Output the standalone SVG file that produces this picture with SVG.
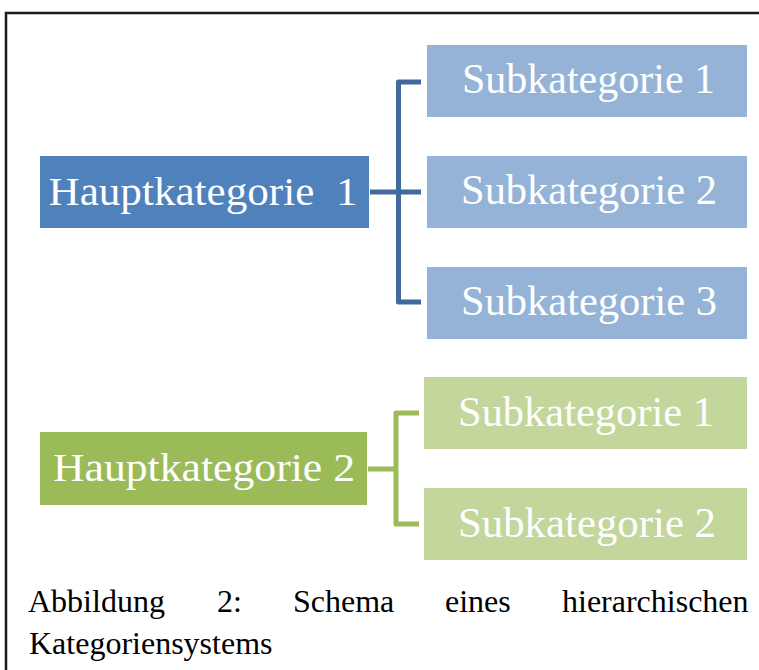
<svg xmlns="http://www.w3.org/2000/svg" width="759" height="670" viewBox="0 0 759 670">
<style>
.box-text{font-family:"Liberation Serif","Times New Roman",serif;fill:#ffffff;text-anchor:middle;white-space:pre}
.cap{font-family:"Liberation Serif","Times New Roman",serif;fill:#000000;font-size:32px}
.b1{fill:#4F81BD}
.bs{fill:#95B3D7}
.g1{fill:#9BBB59}
.gs{fill:#C3D69B}
.conn-b{fill:none;stroke:#41699B;stroke-width:5;stroke-linejoin:round}
.conn-g{fill:none;stroke:#9BBB59;stroke-width:5;stroke-linejoin:round}
</style>
<rect x="0" y="0" width="759" height="670" fill="#ffffff"/>
<rect x="6" y="13" width="800" height="700" fill="none" stroke="#1a1a1a" stroke-width="2.5"/>
<g id="connectors">
<path class="conn-b" d="M421 82 H398.5 V302 H421"/>
<path class="conn-b" d="M370 192 H421"/>
<path class="conn-g" d="M419 413 H396 V524 H419"/>
<path class="conn-g" d="M368 469 H396"/>
</g>
<g id="haupt1">
<rect class="b1" x="40" y="156" width="329" height="72"/>
<text class="box-text" x="203" y="205" font-size="41" textLength="309" lengthAdjust="spacingAndGlyphs">Hauptkategorie  1</text>
</g>
<g id="sub1-1">
<rect class="bs" x="427" y="45" width="320" height="72"/>
<text class="box-text" x="588.5" y="93" font-size="42" textLength="253" lengthAdjust="spacingAndGlyphs">Subkategorie 1</text>
</g>
<g id="sub1-2">
<rect class="bs" x="427" y="156" width="320" height="72"/>
<text class="box-text" x="589" y="204" font-size="42" textLength="256" lengthAdjust="spacingAndGlyphs">Subkategorie 2</text>
</g>
<g id="sub1-3">
<rect class="bs" x="427" y="267" width="320" height="72"/>
<text class="box-text" x="589" y="315" font-size="42" textLength="256" lengthAdjust="spacingAndGlyphs">Subkategorie 3</text>
</g>
<g id="haupt2">
<rect class="g1" x="40" y="432" width="327" height="73"/>
<text class="box-text" x="204" y="481" font-size="41" textLength="302" lengthAdjust="spacingAndGlyphs">Hauptkategorie 2</text>
</g>
<g id="sub2-1">
<rect class="gs" x="424" y="377" width="323" height="72"/>
<text class="box-text" x="586" y="426" font-size="42" textLength="256" lengthAdjust="spacingAndGlyphs">Subkategorie 1</text>
</g>
<g id="sub2-2">
<rect class="gs" x="424" y="488" width="323" height="72"/>
<text class="box-text" x="587" y="537" font-size="42" textLength="258" lengthAdjust="spacingAndGlyphs">Subkategorie 2</text>
</g>
<g id="caption">
<text class="cap" y="612"><tspan x="28">Abbildung</tspan><tspan x="217">2:</tspan><tspan x="293">Schema</tspan><tspan x="445">eines</tspan><tspan x="562">hierarchischen</tspan></text>
<text class="cap" x="29" y="654">Kategoriensystems</text>
</g>
</svg>
